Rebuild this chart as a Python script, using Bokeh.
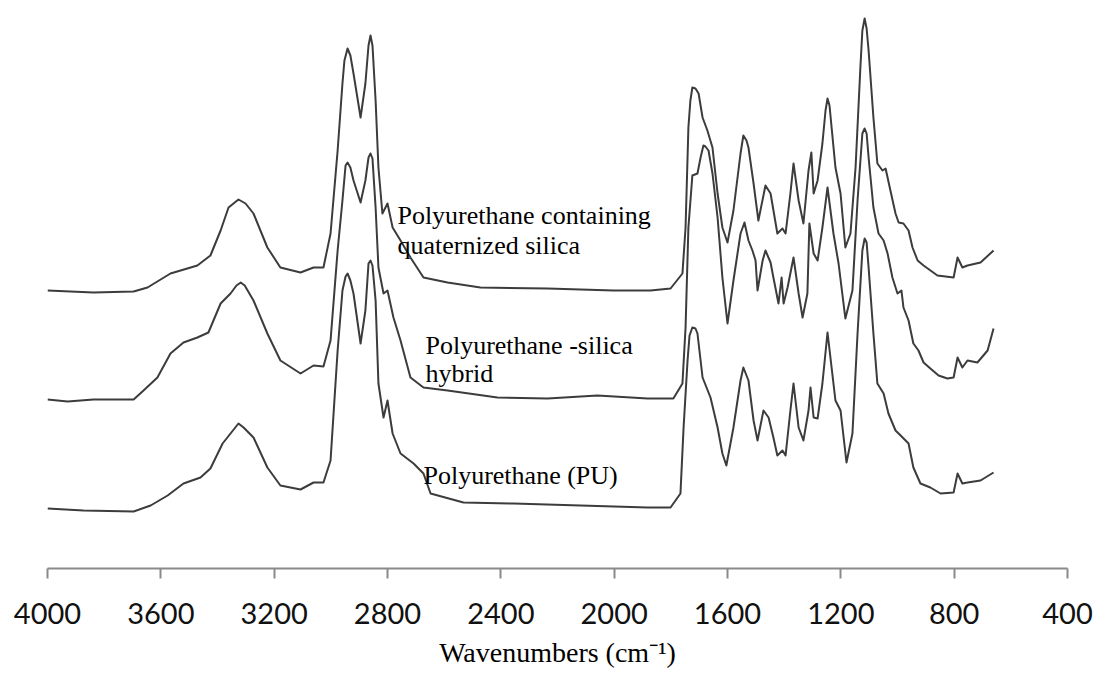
from bokeh.plotting import figure
from bokeh.models import Range1d, Label, FixedTicker
from bokeh.embed import file_html
from bokeh.resources import INLINE

# FTIR spectra (wavenumber in cm-1, offset absorbance in arbitrary units)
wn_quat = [4000, 3838, 3696, 3647, 3566, 3471, 3425, 3389, 3361, 3326, 3301, 3273, 3224, 3178, 3107,
           3061, 3026, 3001, 2976, 2959, 2952, 2941, 2931, 2920, 2895, 2878, 2867, 2860, 2853, 2842,
           2832, 2818, 2800, 2782, 2754, 2719, 2673, 2588, 2472, 2235, 2002, 1872, 1801, 1759, 1748,
           1738, 1731, 1724, 1713, 1702, 1688, 1671, 1653, 1635, 1618, 1600, 1579, 1554, 1544, 1533,
           1526, 1508, 1491, 1466, 1448, 1424, 1406, 1395, 1378, 1367, 1349, 1332, 1314, 1304, 1296,
           1282, 1265, 1254, 1247, 1240, 1219, 1201, 1184, 1166, 1148, 1131, 1124, 1116, 1109, 1102,
           1085, 1071, 1053, 1042, 1025, 1007, 996, 979, 961, 947, 929, 908, 859, 802, 788,
           771, 753, 707, 661]
ab_quat = [2.78, 2.76, 2.77, 2.81, 2.95, 3.03, 3.13, 3.38, 3.61, 3.69, 3.65, 3.55, 3.21, 3.01, 2.96,
           3.01, 3.01, 3.35, 4.18, 4.85, 5.08, 5.20, 5.13, 4.95, 4.51, 4.85, 5.23, 5.33, 5.23, 4.68,
           4.01, 3.55, 3.65, 3.41, 3.28, 3.11, 2.91, 2.86, 2.81, 2.80, 2.78, 2.78, 2.80, 2.95, 3.41,
           4.41, 4.68, 4.81, 4.80, 4.75, 4.51, 4.38, 4.21, 3.75, 3.41, 3.26, 3.58, 4.15, 4.33, 4.28,
           4.21, 3.85, 3.48, 3.83, 3.75, 3.35, 3.40, 3.35, 3.75, 4.05, 3.68, 3.45, 3.98, 4.16, 3.75,
           3.88, 4.25, 4.58, 4.70, 4.63, 4.01, 3.75, 3.21, 3.35, 4.01, 5.01, 5.38, 5.50, 5.40, 5.18,
           4.51, 4.05, 3.98, 4.00, 3.78, 3.55, 3.46, 3.45, 3.38, 3.21, 3.08, 3.03, 2.93, 2.91, 3.11,
           3.01, 3.03, 3.06, 3.18]

wn_hyb = [4000, 3929, 3838, 3696, 3661, 3612, 3566, 3520, 3471, 3432, 3389, 3354, 3333, 3318, 3304,
          3273, 3224, 3178, 3107, 3061, 3026, 3001, 2976, 2959, 2948, 2941, 2931, 2920, 2895, 2878,
          2867, 2860, 2853, 2842, 2832, 2814, 2800, 2779, 2754, 2719, 2673, 2588, 2412, 2235, 2059,
          1882, 1791, 1759, 1748, 1738, 1724, 1706, 1695, 1685, 1678, 1667, 1653, 1635, 1618, 1600,
          1579, 1554, 1540, 1526, 1512, 1501, 1494, 1476, 1466, 1448, 1438, 1420, 1409, 1402, 1388,
          1367, 1349, 1335, 1318, 1311, 1296, 1282, 1265, 1247, 1226, 1208, 1184, 1159, 1141, 1124,
          1116, 1109, 1102, 1085, 1067, 1049, 1035, 1018, 1000, 986, 979, 961, 944, 926, 908,
          884, 855, 824, 802, 788, 771, 753, 718, 682, 661]
ab_hyb = [1.69, 1.67, 1.69, 1.69, 1.78, 1.91, 2.15, 2.26, 2.31, 2.36, 2.65, 2.75, 2.83, 2.86, 2.83,
          2.68, 2.35, 2.08, 1.95, 2.03, 2.02, 2.28, 3.18, 3.68, 4.03, 4.06, 4.01, 3.88, 3.66, 3.88,
          4.11, 4.15, 4.10, 3.61, 3.01, 2.75, 2.78, 2.51, 2.28, 1.91, 1.81, 1.78, 1.71, 1.70, 1.73,
          1.70, 1.70, 1.85, 2.41, 3.41, 3.93, 3.95, 4.11, 4.23, 4.22, 4.18, 3.95, 3.51, 2.91, 2.45,
          2.88, 3.35, 3.46, 3.28, 3.18, 3.08, 2.78, 3.08, 3.18, 3.06, 2.91, 2.65, 2.91, 2.65, 2.81,
          3.11, 2.75, 2.51, 2.75, 3.45, 3.15, 3.08, 3.41, 3.81, 3.35, 3.05, 2.50, 2.78, 3.68, 4.35,
          4.40, 4.35, 4.11, 3.61, 3.35, 3.28, 3.15, 2.91, 2.75, 2.78, 2.61, 2.48, 2.25, 2.18, 2.06,
          2.00, 1.93, 1.90, 1.91, 2.11, 2.01, 2.08, 2.06, 2.18, 2.40]

wn_pu = [4000, 3873, 3696, 3636, 3576, 3520, 3460, 3425, 3382, 3340, 3326, 3308, 3273, 3224, 3178,
         3107, 3061, 3026, 3001, 2976, 2959, 2948, 2941, 2931, 2920, 2895, 2878, 2867, 2860, 2853,
         2842, 2832, 2814, 2800, 2782, 2754, 2708, 2673, 2648, 2532, 2355, 2119, 1882, 1801, 1766,
         1755, 1741, 1734, 1724, 1713, 1706, 1688, 1660, 1635, 1618, 1604, 1579, 1554, 1544, 1526,
         1508, 1494, 1473, 1455, 1438, 1424, 1406, 1395, 1378, 1367, 1349, 1332, 1314, 1307, 1296,
         1282, 1265, 1247, 1219, 1201, 1180, 1159, 1141, 1124, 1116, 1109, 1102, 1085, 1071, 1049,
         1032, 1007, 989, 961, 944, 919, 884, 848, 802, 788, 771, 753, 707, 661]
ab_pu = [0.60, 0.58, 0.57, 0.63, 0.73, 0.85, 0.91, 1.00, 1.25, 1.40, 1.45, 1.41, 1.31, 1.01, 0.83,
         0.79, 0.86, 0.86, 1.08, 2.18, 2.78, 2.92, 2.95, 2.88, 2.75, 2.25, 2.58, 3.05, 3.08, 3.03,
         2.68, 1.85, 1.51, 1.68, 1.35, 1.15, 1.05, 0.95, 0.75, 0.66, 0.65, 0.63, 0.61, 0.61, 0.75,
         1.41, 2.08, 2.33, 2.41, 2.40, 2.35, 1.91, 1.71, 1.41, 1.15, 1.03, 1.41, 1.88, 2.01, 1.88,
         1.48, 1.28, 1.58, 1.51, 1.31, 1.13, 1.18, 1.13, 1.58, 1.85, 1.41, 1.28, 1.58, 1.81, 1.51,
         1.50, 1.85, 2.36, 1.68, 1.58, 1.06, 1.35, 2.35, 3.18, 3.30, 3.26, 3.01, 2.35, 1.85, 1.75,
         1.55, 1.38, 1.33, 1.25, 1.01, 0.85, 0.81, 0.75, 0.76, 0.95, 0.85, 0.86, 0.88, 0.96]

x_ticks = [4000, 3600, 3200, 2800, 2400, 2000, 1600, 1200, 800, 400]

series_labels = [
    ["Polyurethane containing", "quaternized silica"],
    ["Polyurethane -silica", "hybrid"],
    ["Polyurethane (PU)"],
]

LINE = "#3c3c3c"
SERIF = "Liberation Serif"

p = figure(width=1093, height=682, output_backend="svg", toolbar_location=None,
           x_range=Range1d(4000, 400), y_range=Range1d(0, 5.6),
           min_border_left=47, min_border_right=26, min_border_top=8, min_border_bottom=114)
p.outline_line_color = None
p.grid.visible = False
p.yaxis.visible = False
p.background_fill_color = "white"

for wn, ab in [(wn_quat, ab_quat), (wn_hyb, ab_hyb), (wn_pu, ab_pu)]:
    p.line(wn, ab, line_color=LINE, line_width=2, line_join="round")

ax = p.xaxis[0]
ax.ticker = FixedTicker(ticks=x_ticks)
ax.minor_tick_line_color = None
ax.axis_line_color = "#8a8a8a"
ax.axis_line_width = 2
ax.major_tick_line_color = "#8a8a8a"
ax.major_tick_line_width = 2
ax.major_tick_in = 0
ax.major_tick_out = 10
ax.major_label_standoff = 24
ax.major_label_text_font = "Lato"
ax.major_label_text_font_size = "29px"
ax.major_label_text_color = "#111111"
ax.axis_label = "Wavenumbers (cm\u207b\u00b9)"
ax.axis_label_text_font = SERIF
ax.axis_label_text_font_size = "28px"
ax.axis_label_text_font_style = "normal"
ax.axis_label_text_color = "black"
ax.axis_label_standoff = 10

# curve annotations
label_pos = [(2765, 3.53, 0.30), (2666, 2.23, 0.28), (2673, 0.93, 0.28)]
for lines, (lx, ly, dy) in zip(series_labels, label_pos):
    for i, t in enumerate(lines):
        p.add_layout(Label(x=lx, y=ly - i * dy, text=t, text_font=SERIF,
                           text_font_size="26px", text_baseline="middle", text_color="black"))

open("out.html", "w").write(file_html(p, INLINE))
